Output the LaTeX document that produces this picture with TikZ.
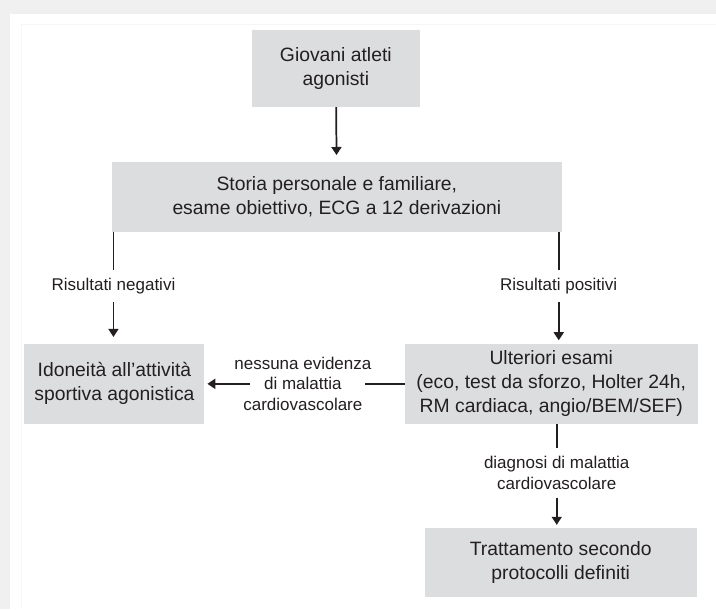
\documentclass[tikz,border=0pt]{standalone}
\usepackage{fontspec}
\setmainfont{Liberation Sans}
\usetikzlibrary{arrows.meta}
\definecolor{boxgray}{HTML}{DCDDDF}
\definecolor{inkgray}{HTML}{231F20}
\definecolor{framegray}{HTML}{F0F0F0}

\begin{document}
\begin{tikzpicture}[x=0.75pt,y=-0.75pt,
                box node/.style={fill=boxgray,text=inkgray,align=center,inner sep=0pt,
                        font=\fontsize{14.5}{18}\selectfont},
                label node/.style={text=inkgray,align=center,inner xsep=1pt,inner ysep=6pt,
                        font=\fontsize{12.75}{15.5}\selectfont},
                every edge/.style={draw=inkgray,line width=1.3pt},
                flow/.style={-{Triangle[width=7.5pt,length=6pt]}}]
	% frame
	\fill[framegray] (0,0) rectangle (716,609);
	\fill[white] (10,14) rectangle (716,609);
	\draw[framegray!60,line width=0.5pt] (21,609) -- (21,24) -- (716,24);
	\useasboundingbox (0,0) rectangle (716,609);

	\node[box node,minimum width=126pt,minimum height=57.75pt] (giovani) at (336,68.5) {Giovani atleti\\agonisti};
	\node[box node,minimum width=337.5pt,minimum height=52.5pt] (storia) at (337,197) {Storia personale e familiare,\\esame obiettivo, ECG a 12 derivazioni};
	\node[box node,minimum width=135pt,minimum height=60pt] (idoneita) at (114.5,384) {Idoneità all’attività\\sportiva agonistica};
	\node[box node,minimum width=219.75pt,minimum height=60pt] (ulteriori) at (551.5,384) {Ulteriori esami\\(eco, test da sforzo, Holter 24h,\\RM cardiaca, angio/BEM/SEF)};
	\node[box node,minimum width=204pt,minimum height=51.75pt] (trattamento) at (561,562.5) {Trattamento secondo\\protocolli definiti};

	\node[label node] (negativi) at (113.5,286) {Risultati negativi};
	\node[label node] (positivi) at (559,286) {Risultati positivi};
	\node[label node] (nessuna) at (303,384) {nessuna evidenza\\di malattia\\cardiovascolare};
	\node[label node] (diagnosi) at (557,473) {diagnosi di malattia\\cardiovascolare};

	\path[flow]
	(giovani) edge[shorten >=5pt] (storia)
	(storia.south -| negativi) edge[-] (negativi)
	(negativi) edge[shorten >=5pt] (idoneita.north -| negativi)
	(storia.south -| positivi) edge[-] (positivi)
	(positivi) edge[shorten >=2.5pt] (ulteriori.north -| positivi)
	(ulteriori.west) edge[-] ([xshift=-6pt]nessuna.east)
	([xshift=12.75pt]nessuna.west) edge[shorten >=2pt] (idoneita.east)
	(ulteriori.south -| diagnosi) edge[-] (diagnosi)
	(diagnosi) edge[shorten >=2pt] (trattamento.north -| diagnosi);

\end{tikzpicture}
\end{document}
